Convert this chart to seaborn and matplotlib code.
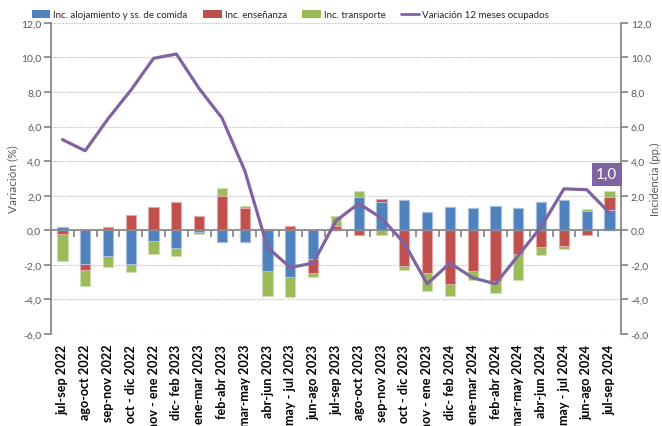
import numpy as np
import pandas as pd
import seaborn as sns
import matplotlib.pyplot as plt
from matplotlib.patches import Patch
from matplotlib.lines import Line2D
from matplotlib.ticker import FuncFormatter

# --- data ---
periodos = ['jul-sep 2022', 'ago-oct 2022', 'sep-nov 2022', 'oct - dic 2022', 'nov - ene 2022',
            'dic- feb 2023', 'ene-mar 2023', 'feb-abr 2023', 'mar-may 2023', 'abr-jun 2023',
            'may - jul 2023', 'jun-ago 2023', 'jul-sep 2023', 'ago-oct 2023', 'sep-nov 2023',
            'oct - dic 2023', 'nov - ene 2023', 'dic- feb 2024', 'ene-mar 2024', 'feb-abr 2024',
            'mar-may 2024', 'abr-jun 2024', 'may - jul 2024', 'jun-ago 2024', 'jul-sep 2024']

aloj = [0.2, -1.95, -1.5, -1.95, -0.6, -1.05, -0.1, -0.65, -0.7, -2.35, -2.7, -1.65, 0.05,
        1.95, 1.65, 1.75, 1.05, 1.35, 1.3, 1.4, 1.3, 1.65, 1.75, 1.1, 1.15]
ense = [-0.2, -0.35, 0.2, 0.9, 1.35, 1.65, 0.85, 2.0, 1.3, 0.1, 0.25, -0.8, 0.2,
        -0.25, 0.15, -2.05, -2.5, -3.1, -2.35, -2.95, -1.35, -0.95, -0.9, -0.3, 0.8]
transp = [-1.6, -0.9, -0.6, -0.45, -0.8, -0.45, -0.1, 0.45, 0.1, -1.45, -1.15, -0.25, 0.6,
          0.35, -0.25, -0.25, -1.0, -0.7, -0.55, -0.7, -1.5, -0.5, -0.2, 0.15, 0.3]
variacion = [5.25, 4.6, 6.45, 8.1, 9.95, 10.2, 8.2, 6.5, 3.45, -1.0, -2.15, -1.9, 0.55,
             1.55, 0.7, -0.75, -3.1, -1.9, -2.75, -3.1, -1.45, 0.2, 2.4, 2.35, 1.0]

nombres = {'aloj': 'Inc. alojamiento y ss. de comida',
           'ense': 'Inc. enseñanza',
           'transp': 'Inc. transporte'}
colores = {'aloj': '#4F81BD', 'ense': '#C0504D', 'transp': '#9BBB59'}
bordes = {'aloj': '#A9C1DF', 'ense': '#E2ABA9', 'transp': '#CFDEB0'}
morado = '#8064A2'
gris = '#868686'
texto = '#595959'

sns.set_theme(style='white')
plt.rcParams['font.family'] = ['Lato', 'DejaVu Sans']

df = pd.DataFrame({'periodo': periodos, 'aloj': aloj, 'ense': ense, 'transp': transp})
comp = df[['aloj', 'ense', 'transp']]
# Excel stacks positives and negatives separately
pos = comp.clip(lower=0).cumsum(axis=1)
neg = comp.clip(upper=0).cumsum(axis=1)

fig = plt.figure(figsize=(6.62, 4.27), dpi=100)
ax = fig.add_axes([0.077, 0.2155, 0.861, 0.7285])

# draw the tallest cumulative first so the shorter ones sit on top
for col in ['transp', 'ense', 'aloj']:
    for parte in (pos, neg):
        sns.barplot(x=df['periodo'], y=parte[col], order=periodos, color=colores[col],
                    saturation=1, width=0.45, edgecolor=bordes[col], linewidth=0.8,
                    errorbar=None, ax=ax)

fmt = FuncFormatter(lambda v, p: f'{v:.1f}'.replace('.', ','))
ax.set_xlim(-0.5, len(periodos) - 0.5)
ax.set_ylim(-6, 12)
ax.set_yticks(np.arange(-6, 13, 2))
ax.yaxis.set_major_formatter(fmt)
ax.set_axisbelow(True)
ax.yaxis.grid(True, color='#C8C8C8', lw=0.8, ls=(0, (1.5, 1)))
ax.set_xlabel('')
ax.set_ylabel('Variación (%)', color=texto, fontsize=8.5)
ax.yaxis.set_label_coords(-0.058, 0.5)

for s in ['top', 'right']:
    ax.spines[s].set_visible(False)
ax.spines['left'].set_color(gris)
ax.spines['bottom'].set_color(gris)
ax.spines['bottom'].set_position(('data', 0))

# category boundary ticks on the zero line
ax.set_xticks(np.arange(-0.5, len(periodos), 1))
ax.set_xticklabels([])
ax.tick_params(axis='x', bottom=True, length=5, color=gris, direction='out')
ax.tick_params(axis='y', left=True, length=5, color=gris, labelsize=7.5, labelcolor=texto, pad=2)

# category labels at the bottom of the plot
sec = ax.secondary_xaxis(0.0)
sec.set_ticks(range(len(periodos)), labels=periodos)
sec.tick_params(length=0, pad=7, labelsize=9.1, labelcolor='black', labelrotation=90)
for t in sec.get_xticklabels():
    t.set_fontweight('bold')
sec.spines['bottom'].set_visible(False)

# right axis with the line
ax2 = ax.twinx()
sns.lineplot(x=np.arange(len(periodos)), y=variacion, color=morado, lw=2.3, ax=ax2)
ax2.set_ylim(-6, 12)
ax2.set_yticks(np.arange(-6, 13, 2))
ax2.yaxis.set_major_formatter(fmt)
for s in ['top', 'left', 'bottom']:
    ax2.spines[s].set_visible(False)
ax2.spines['right'].set_color(gris)
ax2.tick_params(axis='y', right=True, length=5, color=gris, labelsize=7.5, labelcolor=texto, pad=2)
ax2.set_ylabel('Incidencia (pp.)', color=texto, fontsize=8)
ax2.yaxis.set_label_coords(1.05, 0.5)

ax2.annotate(f'{variacion[-1]:.1f}'.replace('.', ','), xy=(len(periodos) - 1, variacion[-1]),
             xytext=(-2, 28), textcoords='offset points', ha='center', va='center',
             color='white', fontsize=11,
             bbox=dict(boxstyle='square,pad=0.3', fc=morado, ec='none'))

handles = [Patch(facecolor=colores[k], edgecolor='none') for k in ['aloj', 'ense', 'transp']]
handles.append(Line2D([0], [0], color=morado, lw=2))
labels = [nombres[k] for k in ['aloj', 'ense', 'transp']] + ['Variación 12 meses ocupados']
fig.legend(handles, labels, ncol=4, loc='upper left', bbox_to_anchor=(0.035, 0.995),
           frameon=False, fontsize=7, handlelength=1.9, handleheight=0.9,
           handletextpad=0.3, columnspacing=1.6, labelcolor='#262626')

fig.savefig('out.png', dpi=100)
